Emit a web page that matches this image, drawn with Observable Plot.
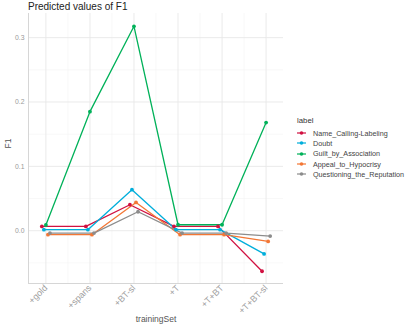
<!DOCTYPE html>
<html><head><meta charset="utf-8">
<script src="https://cdn.jsdelivr.net/npm/d3@7"></script>
<script src="https://cdn.jsdelivr.net/npm/@observablehq/plot@0.6"></script>
<style>
body{margin:0;background:#fff;font-family:"Liberation Sans",Arial,sans-serif;}
#wrap{position:relative;width:409px;height:327px;}
#title{position:absolute;left:28px;top:1px;font-size:10px;color:#222;}
#legend{position:absolute;left:297px;top:116px;font-size:7.2px;color:#444;}
#legend .lt{font-size:7.8px;margin-bottom:3px;color:#333;}
#legend .it{display:flex;align-items:center;height:10.3px;}
#legend svg{margin-right:7px;}
</style></head><body>
<div id="wrap"><div id="title">Predicted values of F1</div><div id="chart"></div><div id="legend"></div></div>
<script>
const categories = ["+gold", "+spans", "+BT-sl", "+T", "+T+BT", "+T+BT-sl"];
const labels = ["Name_Calling-Labeling", "Doubt", "Guilt_by_Association", "Appeal_to_Hypocrisy", "Questioning_the_Reputation"];
const colors = ["#d11141", "#00aedb", "#00b159", "#f37735", "#8c8c8c"];
const nameCalling = [0.0067, 0.0067, 0.0404, 0.0067, 0.0067, -0.063];
const doubt = [0.0016, 0.0016, 0.0637, 0.0016, 0.0016, -0.036];
const guilt = [0.0089, 0.185, 0.3176, 0.0093, 0.0093, 0.168];
const appeal = [-0.0062, -0.0062, 0.044, -0.0062, -0.0062, -0.0166];
const questioning = [-0.0036, -0.0036, 0.0295, -0.0036, -0.0036, -0.0083];
const series = [nameCalling, doubt, guilt, appeal, questioning];
const yMajor = [0, 0.1, 0.2, 0.3];
const yMinor = [-0.05, 0.05, 0.15, 0.25];
const yDomain = [-0.082, 0.3375];
const xDomain = [-0.395, categories.length - 1 + 0.395];
const dodge = 0.046;

const data = [];
series.forEach((vals, k) => vals.forEach((v, i) => data.push({
  label: labels[k], xi: i + (k - 2) * dodge, cat: categories[i], F1: v, order: k
})));
const xMinor = d3.range(categories.length - 1).map(i => i + 0.5);
const xMajor = d3.range(categories.length);

const chart = Plot.plot({
  width: 409, height: 327,
  marginLeft: 28, marginRight: 126, marginTop: 13, marginBottom: 44,
  style: {fontFamily: "Liberation Sans, Arial, sans-serif", background: "white"},
  x: {type: "linear", domain: xDomain, axis: null},
  y: {domain: yDomain, axis: null},
  color: {domain: labels, range: colors},
  marks: [
    Plot.ruleY(yMinor, {stroke: "#f3f3f3", strokeWidth: 0.6}),
    Plot.ruleX(xMinor, {stroke: "#f3f3f3", strokeWidth: 0.6}),
    Plot.ruleY(yMajor, {stroke: "#e8e8e8", strokeWidth: 0.9}),
    Plot.ruleX(xMajor, {stroke: "#e8e8e8", strokeWidth: 0.9}),
    Plot.ruleX([xDomain[0]], {stroke: "#d6d6d6", strokeWidth: 1}),
    Plot.ruleY([yDomain[0]], {stroke: "#d6d6d6", strokeWidth: 1}),
    Plot.axisY({ticks: yMajor, tickSize: 0, tickPadding: 4, tickFormat: d3.format(".1f"), fontSize: 6.8, fill: "#9a9a9a", label: null}),
    Plot.axisX({ticks: xMajor, tickSize: 0, tickPadding: 3, tickRotate: -45, tickFormat: i => categories[i], fontSize: 9, fill: "#a0a0a0", label: null}),
    Plot.text(["F1"], {frameAnchor: "left", rotate: -90, dx: -20, fontSize: 8.5, fill: "#555"}),
    Plot.text(["trainingSet"], {frameAnchor: "bottom", dy: 38, fontSize: 8.5, fill: "#555"}),
    Plot.line(data, {x: "xi", y: "F1", z: "label", stroke: "label", strokeWidth: 1.3, curve: "linear"}),
    Plot.dot(data, {x: "xi", y: "F1", fill: "label", r: 1.9, stroke: "none"})
  ]
});
document.getElementById("chart").appendChild(chart);

const leg = document.getElementById("legend");
leg.innerHTML = '<div class="lt">label</div>' + labels.map((l, k) =>
  `<div class="it"><svg width="9" height="6"><line x1="0" x2="9" y1="3" y2="3" stroke="${colors[k]}" stroke-width="1.2"/><circle cx="4.5" cy="3" r="1.8" fill="${colors[k]}"/></svg>${l}</div>`).join("");
</script>
</body></html>
